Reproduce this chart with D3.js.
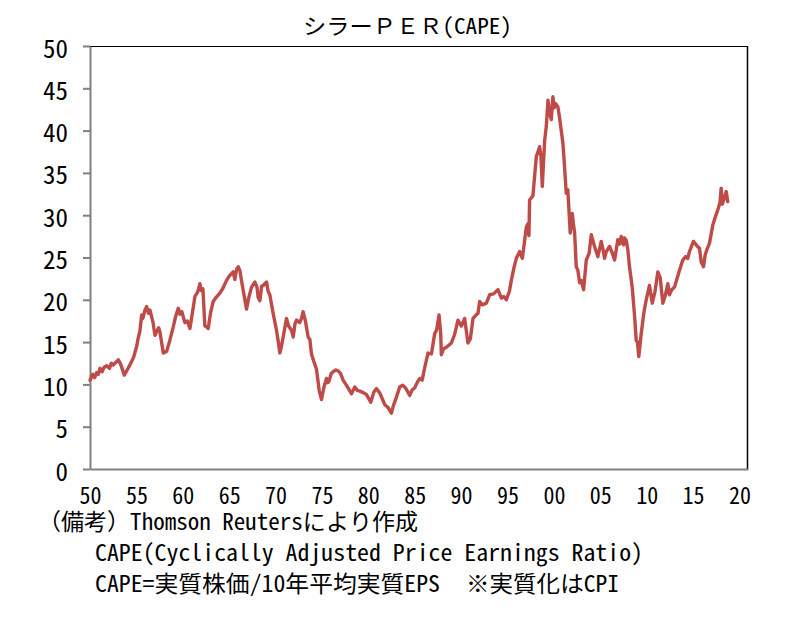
<!DOCTYPE html>
<html>
<head>
<meta charset="utf-8">
<script src="https://cdn.jsdelivr.net/npm/d3@7"></script>
<style>
  html, body { margin: 0; padding: 0; background: #fff; }
  svg { display: block; }
  text { font-family: "Noto Sans Mono CJK JP", "Noto Sans CJK JP", "DejaVu Sans", sans-serif; fill: #000; }
</style>
</head>
<body>
<div id="chart"></div>
<script>
// ---- data ----
const title = "シラーＰＥＲ(CAPE)";
const yTicks = [0, 5, 10, 15, 20, 25, 30, 35, 40, 45, 50];
const xTickYears = [1950, 1955, 1960, 1965, 1970, 1975, 1980, 1985, 1990, 1995, 2000, 2005, 2010, 2015, 2020];
const xTickLabels = ["50", "55", "60", "65", "70", "75", "80", "85", "90", "95", "00", "05", "10", "15", "20"];
const notes = [
  "（備考）Thomson Reutersにより作成",
  "CAPE(Cyclically Adjusted Price Earnings Ratio)",
  "CAPE=実質株価/10年平均実質EPS",
  "※実質化はCPI"
];

const years = [
  1950.0, 1950.3, 1950.5, 1950.72, 1950.9, 1951.08, 1951.3, 1951.5, 1951.8, 1952.1,
  1952.3, 1952.5, 1952.88, 1953.05, 1953.3, 1953.7, 1954.0, 1954.3, 1954.7, 1955.03,
  1955.2, 1955.38, 1955.57, 1955.7, 1955.9, 1956.1, 1956.3, 1956.46, 1956.8, 1957.0,
  1957.18, 1957.4, 1957.54, 1957.9, 1958.26, 1958.6, 1958.97, 1959.2, 1959.51, 1959.7,
  1959.9, 1960.23, 1960.5, 1960.77, 1961.0, 1961.31, 1961.6, 1961.85, 1962.0, 1962.17,
  1962.38, 1962.57, 1962.74, 1963.0, 1963.28, 1963.6, 1964.0, 1964.3, 1964.72, 1965.0,
  1965.43, 1965.61, 1965.8, 1965.97, 1966.15, 1966.4, 1966.87, 1967.1, 1967.41, 1967.77,
  1968.0, 1968.12, 1968.31, 1968.5, 1968.66, 1969.03, 1969.2, 1969.38, 1969.74, 1970.1,
  1970.3, 1970.46, 1970.6, 1970.82, 1971.18, 1971.4, 1971.72, 1971.9, 1972.1, 1972.26,
  1972.6, 1972.8, 1972.97, 1973.2, 1973.51, 1973.7, 1973.87, 1974.1, 1974.41, 1974.7,
  1974.95, 1975.2, 1975.49, 1975.6, 1975.74, 1976.0, 1976.2, 1976.5, 1976.74, 1977.0,
  1977.28, 1977.7, 1978.18, 1978.54, 1978.8, 1979.08, 1979.5, 1979.8, 1980.26, 1980.6,
  1980.87, 1981.23, 1981.5, 1981.77, 1982.1, 1982.49, 1982.7, 1983.03, 1983.38, 1983.7,
  1984.0, 1984.46, 1984.7, 1985.0, 1985.3, 1985.54, 1985.8, 1986.08, 1986.43, 1986.8,
  1987.15, 1987.35, 1987.62, 1987.8, 1987.87, 1988.1, 1988.41, 1988.95, 1989.3, 1989.66,
  1990.03, 1990.38, 1990.6, 1990.74, 1991.0, 1991.28, 1991.6, 1991.82, 1992.0, 1992.3,
  1992.72, 1993.08, 1993.5, 1993.97, 1994.34, 1994.6, 1994.87, 1995.2, 1995.41, 1995.7,
  1995.95, 1996.31, 1996.6, 1997.03, 1997.2, 1997.31, 1997.38, 1997.74, 1998.1, 1998.46,
  1998.6, 1998.75, 1999.0, 1999.18, 1999.36, 1999.55, 1999.72, 1999.89, 2000.05, 2000.18,
  2000.43, 2000.6, 2000.97, 2001.1, 2001.33, 2001.5, 2001.76, 2001.98, 2002.1, 2002.23,
  2002.41, 2002.58, 2002.77, 2002.95, 2003.2, 2003.49, 2003.8, 2004.03, 2004.38, 2004.74,
  2005.1, 2005.3, 2005.46, 2005.64, 2006.0, 2006.3, 2006.54, 2006.89, 2007.1, 2007.26,
  2007.5, 2007.61, 2007.8, 2007.97, 2008.15, 2008.44, 2008.7, 2008.87, 2009.0, 2009.15,
  2009.41, 2009.7, 2009.95, 2010.3, 2010.6, 2010.9, 2011.2, 2011.46, 2011.74, 2012.0,
  2012.28, 2012.46, 2012.7, 2013.0, 2013.54, 2013.89, 2014.2, 2014.43, 2014.61, 2015.04,
  2015.4, 2015.69, 2015.87, 2016.12, 2016.3, 2016.48, 2016.77, 2017.12, 2017.4, 2017.66,
  2017.9, 2018.03, 2018.15, 2018.3, 2018.57, 2018.74
];
const cape = [
  10.5, 11.2, 10.8, 11.4, 11.2, 11.9, 11.5, 12.0, 12.2, 11.9,
  12.5, 12.3, 12.7, 12.9, 12.4, 11.1, 11.7, 12.3, 13.2, 14.5,
  15.5, 16.3, 18.2, 17.8, 18.7, 19.2, 18.4, 18.8, 17.3, 15.8,
  16.2, 16.7, 16.2, 13.7, 13.9, 15.2, 16.8, 17.9, 19.0, 18.3,
  18.6, 17.3, 17.5, 16.6, 18.2, 20.4, 20.9, 21.9, 21.1, 21.3,
  16.9, 16.8, 16.6, 18.5, 19.8, 20.3, 20.8, 21.3, 22.3, 22.8,
  23.3, 22.4, 23.6, 23.9, 23.5, 21.8, 18.9, 20.2, 21.5, 22.1,
  21.5, 20.3, 19.9, 21.6, 21.7, 22.1, 21.0, 20.6, 18.4, 16.4,
  15.0, 13.7, 14.3, 15.6, 17.8, 16.9, 16.4, 15.6, 17.2, 17.6,
  17.3, 17.8, 18.6, 17.6, 15.6, 15.3, 13.6, 12.8, 11.8, 9.3,
  8.2, 9.6, 10.7, 10.2, 10.3, 11.3, 11.5, 11.7, 11.6, 11.3,
  10.5, 9.8, 8.9, 9.7, 9.3, 9.2, 9.0, 8.8, 7.9, 9.1,
  9.5, 9.0, 8.3, 7.6, 7.3, 6.6, 7.5, 8.5, 9.7, 9.9,
  9.6, 8.7, 9.3, 9.6, 10.3, 10.7, 10.5, 12.0, 13.7, 13.6,
  16.0, 16.4, 18.2, 16.0, 13.5, 14.2, 14.4, 14.9, 15.9, 17.6,
  16.9, 17.8, 16.0, 14.9, 15.4, 17.8, 18.2, 18.4, 19.8, 19.4,
  19.6, 20.6, 20.7, 21.2, 20.2, 20.4, 20.0, 21.0, 22.3, 23.8,
  24.9, 25.7, 24.9, 28.6, 29.0, 27.6, 31.8, 32.3, 36.9, 38.1,
  37.0, 33.4, 38.8, 40.5, 43.6, 42.0, 41.3, 44.0, 42.7, 43.2,
  42.8, 41.6, 38.5, 36.5, 32.6, 33.0, 27.9, 30.2, 29.0, 28.0,
  23.9, 23.5, 22.0, 22.3, 21.2, 24.7, 25.5, 27.7, 26.3, 25.1,
  26.9, 25.9, 24.9, 25.7, 26.3, 25.5, 24.7, 27.1, 26.6, 27.5,
  26.5, 27.3, 27.0, 25.9, 23.9, 21.5, 18.0, 15.2, 15.0, 13.3,
  16.0, 18.5, 20.0, 21.7, 19.6, 21.0, 23.3, 22.6, 19.6, 20.5,
  21.9, 20.6, 21.2, 21.5, 23.5, 24.7, 25.1, 24.9, 25.7, 26.9,
  26.4, 26.1, 24.5, 23.9, 25.3, 25.9, 26.7, 28.8, 29.8, 30.6,
  31.5, 33.2, 31.3, 31.8, 32.8, 31.6
];

// ---- layout ----
const W = 799, H = 623;
const plot = { left: 90, right: 748, top: 46, bottom: 469 };

const svg = d3.select("#chart").append("svg")
  .attr("width", W).attr("height", H);

const x = d3.scaleLinear().domain([1950, 2020.92]).range([plot.left, plot.right]);
const y = d3.scaleLinear().domain([0, 50]).range([plot.bottom, plot.top]);

// frame: top and right black
svg.append("line").attr("x1", plot.left).attr("x2", plot.right)
  .attr("y1", plot.top + 0.5).attr("y2", plot.top + 0.5)
  .attr("stroke", "#000").attr("stroke-width", 1.2);
svg.append("line").attr("x1", plot.right - 0.5).attr("x2", plot.right - 0.5)
  .attr("y1", plot.top).attr("y2", plot.bottom)
  .attr("stroke", "#000").attr("stroke-width", 1.5);

// y axis
const yAxis = d3.axisLeft(y).tickValues(yTicks).tickSize(7).tickSizeOuter(0).tickFormat(d3.format("d"));
const gy = svg.append("g").attr("transform", `translate(${plot.left},0)`).call(yAxis);
gy.select(".domain").attr("stroke", "#808080").attr("stroke-width", 2);
gy.selectAll(".tick line").attr("stroke", "#808080").attr("stroke-width", 2);
gy.selectAll(".tick text")
  .attr("x", -22).attr("dy", null).attr("y", 11)
  .attr("font-size", 25)
  .attr("text-anchor", "end")
  .attr("textLength", d => String(d).length * 12.5)
  .attr("lengthAdjust", "spacingAndGlyphs")
  .style("font-family", '"Noto Sans Mono CJK JP", "Noto Sans CJK JP", sans-serif');

// x axis
const xAxis = d3.axisBottom(x).tickValues(xTickYears).tickSize(0).tickSizeOuter(0)
  .tickFormat((d, i) => xTickLabels[i]);
const gx = svg.append("g").attr("transform", `translate(0,${plot.bottom})`).call(xAxis);
gx.select(".domain").attr("stroke", "#808080").attr("stroke-width", 2);
gx.selectAll(".tick text")
  .attr("y", 35).attr("dy", null)
  .attr("font-size", 23)
  .attr("textLength", 22)
  .attr("lengthAdjust", "spacingAndGlyphs")
  .style("font-family", '"Noto Sans Mono CJK JP", "Noto Sans CJK JP", sans-serif');
svg.selectAll(".tick text").attr("fill", "#000");

// line
const pts = years.map((yr, i) => [yr, cape[i]]);
svg.append("path")
  .datum(pts)
  .attr("fill", "none")
  .attr("stroke", "#BE4B48")
  .attr("stroke-width", 3.4)
  .attr("stroke-linejoin", "round")
  .attr("stroke-linecap", "round")
  .attr("d", d3.line().x(d => x(d[0])).y(d => y(d[1])));

// title
svg.append("text")
  .attr("x", 303).attr("y", 34)
  .attr("font-size", 22)
  .attr("textLength", 209)
  .attr("lengthAdjust", "spacingAndGlyphs")
  .text(title);

// notes
const noteSpecs = [
  { t: notes[0], x: 38, y: 530, len: 380 },
  { t: notes[1], x: 95, y: 561, len: 548 },
  { t: notes[2], x: 95, y: 592, len: 345 },
  { t: notes[3], x: 466, y: 592, len: 153 }
];
svg.selectAll("text.note").data(noteSpecs).enter().append("text")
  .attr("class", "note")
  .attr("x", d => d.x).attr("y", d => d.y)
  .attr("font-size", 23)
  .attr("textLength", d => d.len)
  .attr("lengthAdjust", "spacingAndGlyphs")
  .text(d => d.t);
</script>
</body>
</html>
